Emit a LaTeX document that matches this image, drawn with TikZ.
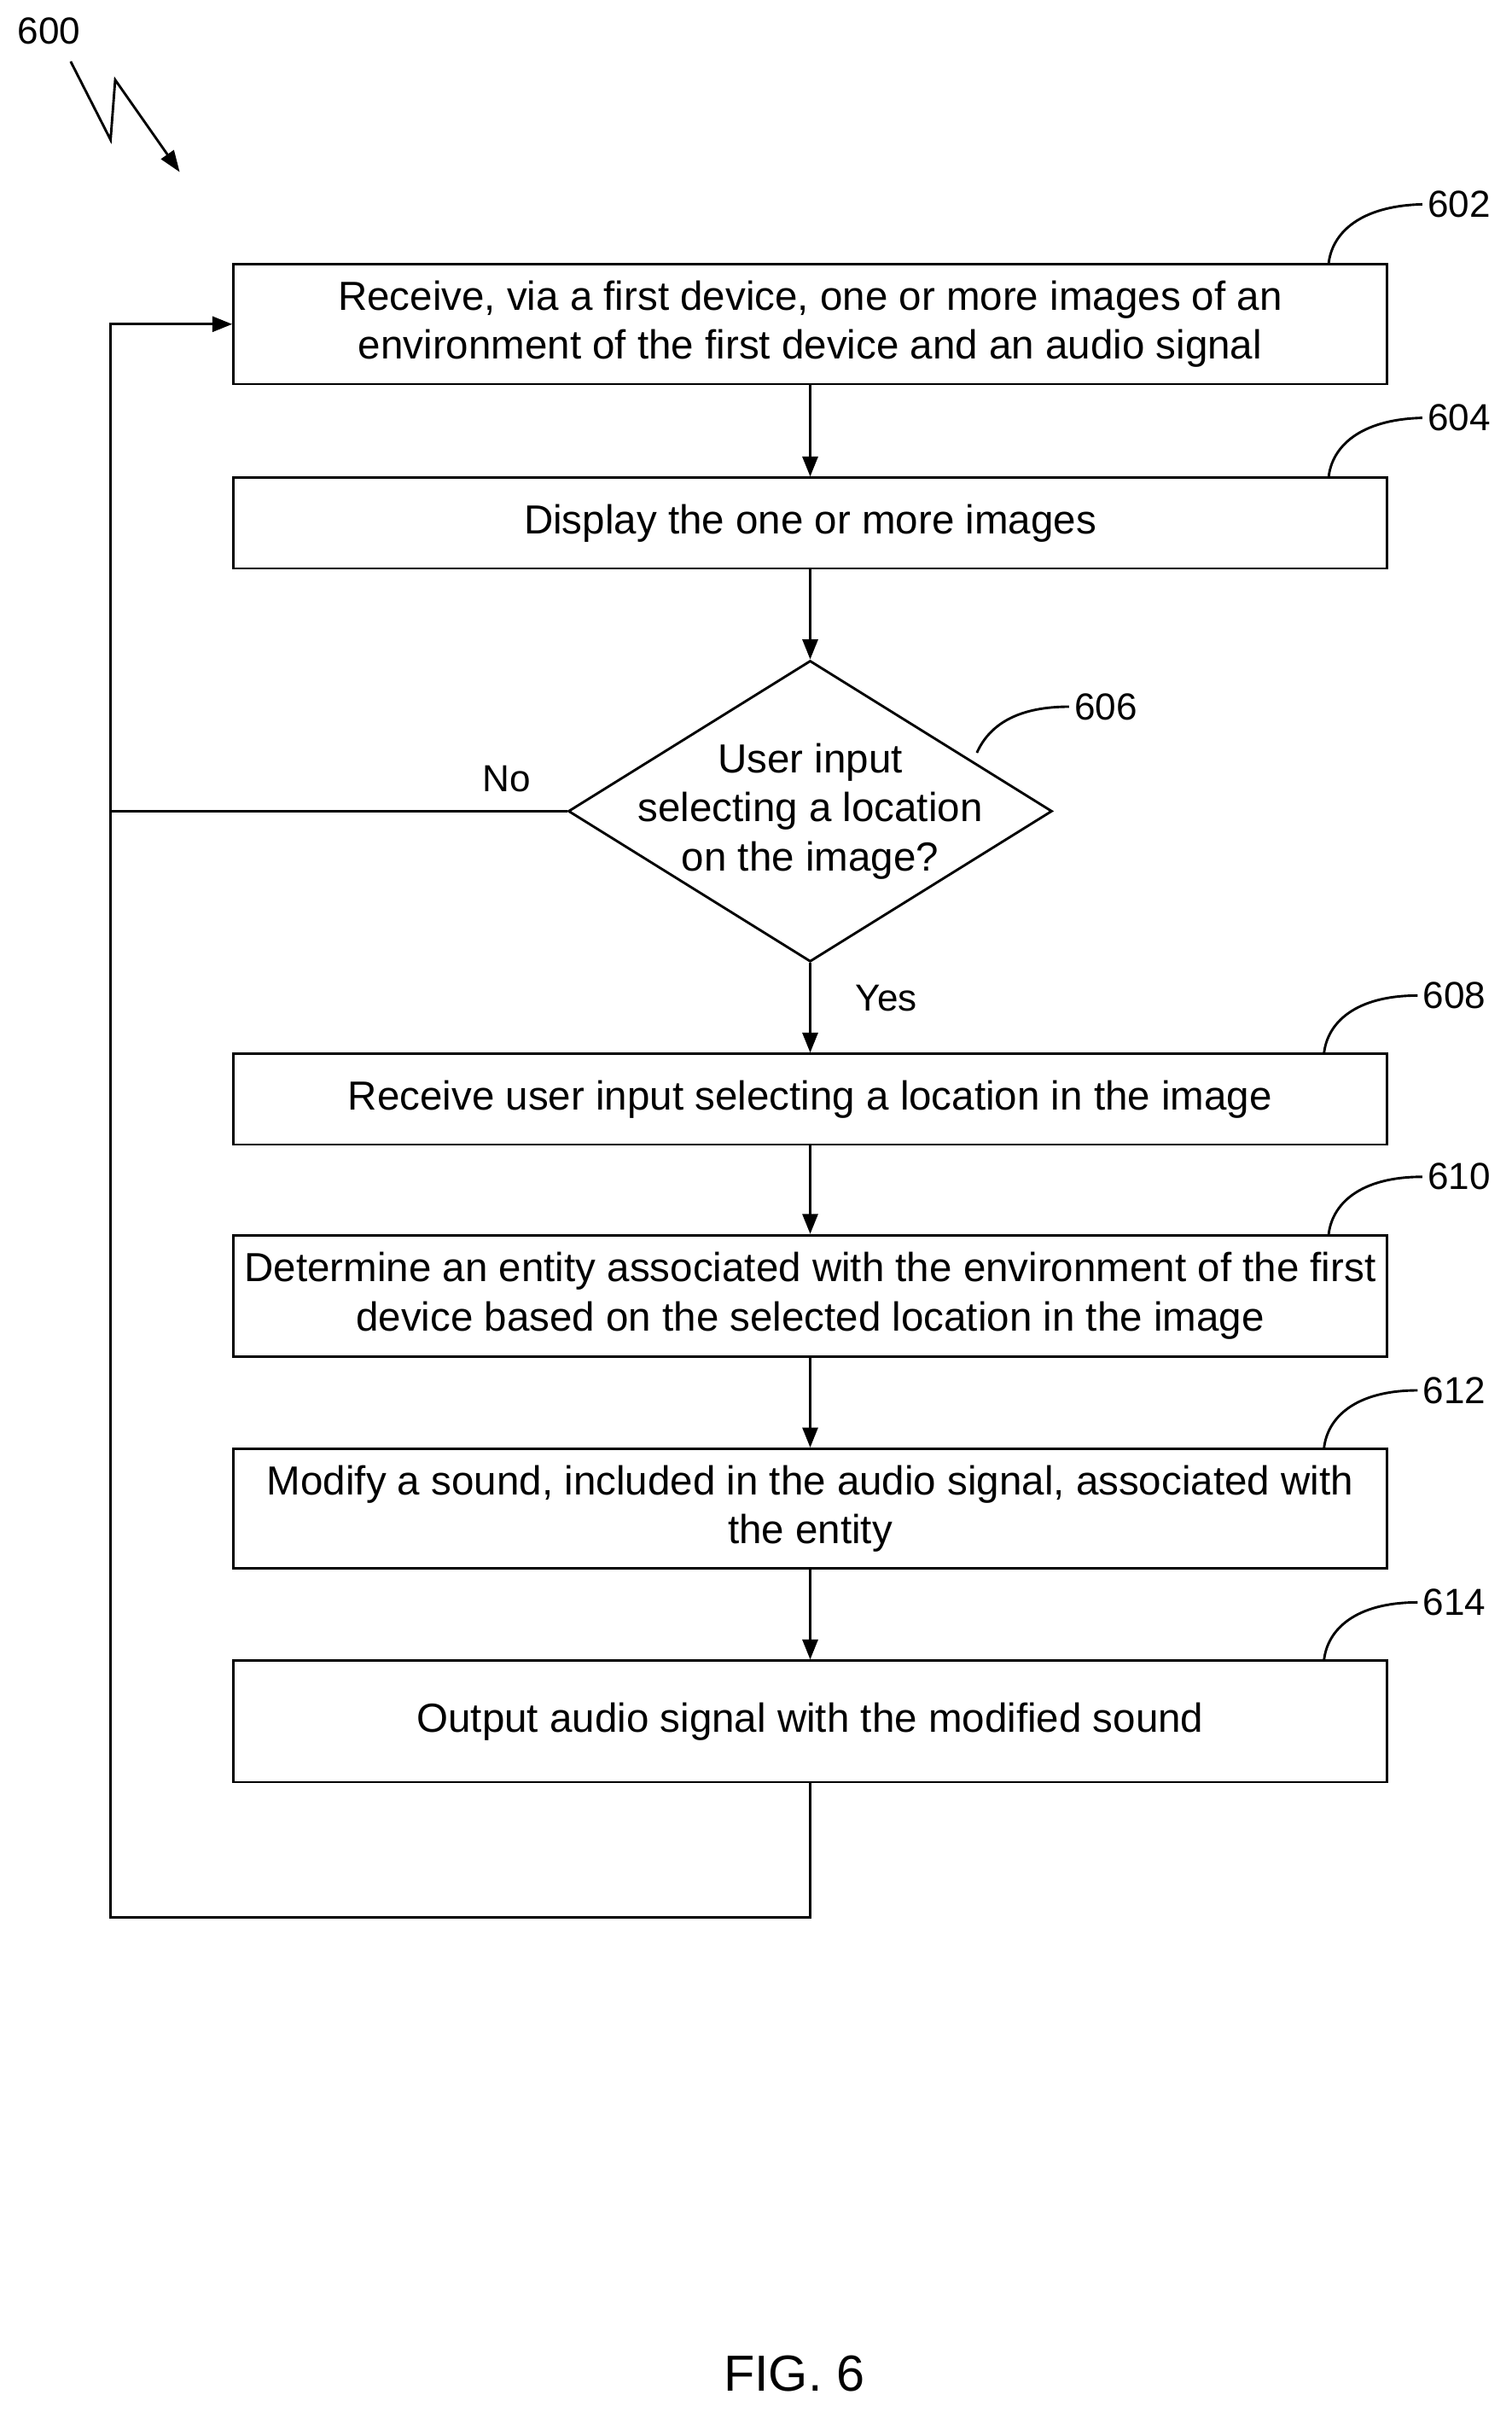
\documentclass[tikz,border=0pt]{standalone}
\usepackage{fontspec}
\setmainfont{Liberation Sans}
\usetikzlibrary{shapes.geometric,arrows.meta}
\begin{document}
\begin{tikzpicture}[x=1pt,y=-1pt,
  box/.style={draw,line width=1.6pt,minimum width=751pt,align=center,font=\fontsize{26.4}{32}\selectfont,inner sep=0pt},
  arr/.style={line width=1.6pt,-{Triangle[length=13pt,width=10pt]}},
  ln/.style={line width=1.6pt},
  lab/.style={font=\fontsize{24.5}{28}\selectfont}]
\useasboundingbox (0,0) rectangle (984,1570);
\node[box,minimum height=78pt] (b602) at (527.5,211) {Receive, via a first device, one or more images of an\\environment of the first device and an audio signal};
\node[box,minimum height=59pt] (b604) at (527.5,340.5) {Display the one or more images};
\node[draw,line width=1.6pt,diamond,minimum width=315pt,minimum height=196pt,inner sep=0pt] (d606) at (527.5,528) {};
\node[align=center,font=\fontsize{26.4}{32}\selectfont] (t606) at (527.5,528) {User input\\selecting a location\\on the image?};
\node[box,minimum height=59pt] (b608) at (527.5,715.5) {Receive user input selecting a location in the image};
\node[box,minimum height=79pt] (b610) at (527.5,843.5) {Determine an entity associated with the environment of the first\\device based on the selected location in the image};
\node[box,minimum height=78pt] (b612) at (527.5,982) {Modify a sound, included in the audio signal, associated with\\the entity};
\node[box,minimum height=79pt] (b614) at (527.5,1120.5) {Output audio signal with the modified sound};
\draw[arr] (b602) -- (b604);
\draw[arr] (b604) -- (d606);
\draw[arr] (d606) -- (b608);
\node[lab] (yes) at (577,650) {Yes};
\draw[arr] (b608) -- (b610);
\draw[arr] (b610) -- (b612);
\draw[arr] (b612) -- (b614);
\coordinate (c1) at (527.5,1248);
\coordinate (c2) at (72,1248);
\coordinate (c3) at (72,211);
\coordinate (c4) at (72,528);
\draw[arr] (b614.south) -- (c1) -- (c2) -- (c3) -- (b602.west);
\draw[ln] (d606.west) -- (c4);
\node[lab] (no) at (330,507) {No};
\foreach \n/\x/\y/\lx/\ly in {602/865/172/950/133, 604/865/311/950/272, 608/862/686/947/648, 610/865/804/950/766, 612/862/943/947/905, 614/862/1081/947/1043}{
  \node[lab] (l\n) at (\lx,\ly) {\n};
  \draw[ln] (\x,\y) .. controls (\x+2,\y-20) and (\x+20,\y-38) .. (l\n.west);
}
\node[lab] (l606) at (720,460) {606};
\draw[ln] (636,490) .. controls (645,470) and (665,460) .. (l606.west);
\node[lab] (l600) at (32,20) {600};
\coordinate (z1) at (46,40);
\coordinate (z2) at (72,91);
\coordinate (z3) at (75,52);
\coordinate (z4) at (117,112);
\draw[ln,-{Triangle[length=14pt,width=10pt]}] (z1) -- (z2) -- (z3) -- (z4);
\node[font=\fontsize{33}{36}\selectfont] (fig) at (517,1545) {FIG. 6};
\end{tikzpicture}
\end{document}
